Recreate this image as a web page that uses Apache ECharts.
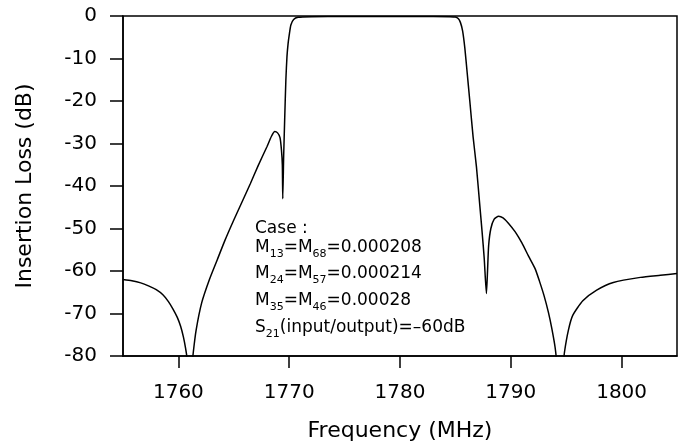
<!DOCTYPE html>
<html>
<head>
	<meta charset="utf-8">
	<title>Insertion Loss</title>
	<script src="https://cdn.jsdelivr.net/npm/echarts@6/dist/echarts.min.js"></script>
	<style>
	html, body { margin: 0; padding: 0; background: #fff; }
	#chart1 { width: 682px; height: 447px; }
	</style>
</head>
<body>
<div id="chart1"></div>
<script type="text/javascript">
// frequency (MHz) / insertion loss (dB)
var freqMHz = [
	1755.0, 1755.8, 1756.6, 1757.3, 1758.0, 1758.6, 1759.1, 1759.5, 1759.9, 1760.2,
	1760.45, 1760.65, 1760.8, 1761.05, 1761.25, 1761.35, 1761.6, 1762.1, 1762.8, 1763.5,
	1764.2, 1765.0, 1765.7, 1766.5, 1767.2, 1768.0, 1768.4, 1768.7, 1768.95, 1769.17,
	1769.3, 1769.38, 1769.42, 1769.5, 1769.59, 1769.7, 1769.8, 1769.9, 1770.0, 1770.15,
	1770.4, 1770.8, 1772.0, 1775.0, 1780.0, 1783.0, 1784.5, 1785.0, 1785.25, 1785.45,
	1785.65, 1785.85, 1786.05, 1786.3, 1786.6, 1786.9, 1787.2, 1787.4, 1787.6, 1787.8,
	1787.9, 1788.0, 1788.2, 1788.5, 1788.9, 1789.3, 1789.8, 1790.4, 1791.0, 1791.6,
	1792.2, 1792.6, 1793.0, 1793.4, 1793.7, 1794.0, 1794.15, 1794.45, 1794.75, 1794.85,
	1795.2, 1795.6, 1796.5, 1797.75, 1799.25, 1801.7, 1803.5, 1805.0
];
var lossDb = [
	-62.0, -62.3, -62.8, -63.5, -64.4, -65.6, -67.2, -68.9, -70.9, -73.0,
	-75.5, -78.2, -81.0, -100, -82.0, -79.0, -73.9, -67.5, -62.0, -57.4,
	-52.8, -48.0, -44.0, -39.4, -35.2, -30.7, -28.3, -27.2, -27.5, -28.6,
	-31.5, -35.0, -43.0, -33.0, -24.5, -15.0, -9.5, -6.5, -4.5, -2.1,
	-0.8, -0.3, -0.15, -0.1, -0.1, -0.1, -0.15, -0.25, -0.6, -1.5,
	-3.5, -7.5, -13.0, -20.0, -28.5, -35.5, -44.5, -50.5, -57.0, -65.3,
	-60.0, -54.0, -50.0, -47.8, -47.1, -47.5, -48.8, -50.8, -53.4, -56.5,
	-59.5, -62.5, -65.8, -69.8, -73.5, -78.0, -82.0, -100, -82.0, -79.0,
	-73.9, -70.4, -67.0, -64.5, -62.7, -61.5, -61.0, -60.6
];
var xTicks = [1760, 1770, 1780, 1790, 1800];

var caseLines = [
	'{m|Case :}',
	'{m|M}{s|13}{m|=M}{s|68}{m|=0.000208}',
	'{m|M}{s|24}{m|=M}{s|57}{m|=0.000214}',
	'{m|M}{s|35}{m|=M}{s|46}{m|=0.00028}',
	'{m|S}{s|21}{m|(input/output)=–60dB}'
];
var caseTops = [220, 239, 265.5, 292.5, 319];

var font = 'DejaVu Sans';
var richStyle = {
	m: { fontFamily: font, fontSize: 17, lineHeight: 24, fill: '#000' },
	s: { fontFamily: font, fontSize: 11, lineHeight: 10, verticalAlign: 'bottom', fill: '#000' }
};

var points = [];
for (var i = 0; i < freqMHz.length; i++) {
	points.push([freqMHz[i], lossDb[i]]);
}

var graphics = [];
for (var j = 0; j < caseLines.length; j++) {
	graphics.push({
		type: 'text',
		left: 255,
		top: caseTops[j],
		style: { text: caseLines[j], rich: richStyle, fill: '#000' }
	});
}

var chart1 = echarts.init(document.getElementById('chart1'));
var option = {
	animation: false,
	backgroundColor: '#fff',
	grid: {
		left: 123, right: 5, top: 16, bottom: 91,
		show: true,
		borderColor: '#000',
		borderWidth: 1.5
	},
	xAxis: {
		type: 'value',
		min: 1755,
		max: 1805,
		name: 'Frequency (MHz)',
		nameLocation: 'middle',
		nameGap: 64,
		nameTextStyle: { fontFamily: font, fontSize: 22, color: '#000' },
		axisLine: { onZero: false, lineStyle: { color: '#000', width: 1.5 } },
		axisTick: { show: true, length: 12, customValues: xTicks, lineStyle: { color: '#000', width: 1.5 } },
		axisLabel: {
			customValues: xTicks, margin: 27, fontFamily: font, fontSize: 20, color: '#000',
			formatter: function (v) { return String(v); }
		},
		splitLine: { show: false }
	},
	yAxis: {
		type: 'value',
		min: -80,
		max: 0,
		interval: 10,
		name: 'Insertion Loss (dB)',
		nameLocation: 'middle',
		nameGap: 87,
		nameTextStyle: { fontFamily: font, fontSize: 22, color: '#000' },
		axisLine: { show: true, lineStyle: { color: '#000', width: 1.5 } },
		axisTick: { show: true, length: 13, lineStyle: { color: '#000', width: 1.5 } },
		axisLabel: { margin: 26, fontFamily: font, fontSize: 20, color: '#000' },
		splitLine: { show: false }
	},
	series: [{
		type: 'line',
		data: points,
		showSymbol: false,
		smooth: 0.2,
		clip: true,
		lineStyle: { color: '#000', width: 1.5 }
	}],
	graphic: graphics
};
chart1.setOption(option);
</script>
</body>
</html>
